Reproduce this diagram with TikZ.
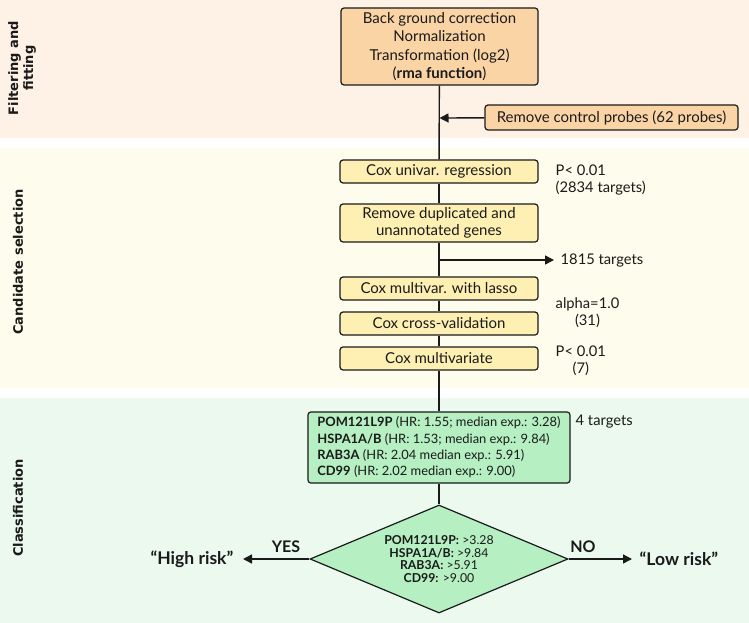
\documentclass[tikz,border=0pt]{standalone}
\usepackage{fontspec}
\setmainfont{Lato}
\newfontfamily\labfont{DejaVu Sans}
\usetikzlibrary{shapes.geometric,arrows.meta}
\definecolor{bandA}{HTML}{FEF1E6}
\definecolor{bandB}{HTML}{FEFCEC}
\definecolor{bandC}{HTML}{ECF9EF}
\definecolor{boxA}{HTML}{FBD4A5}
\definecolor{boxB}{HTML}{FDF0B2}
\definecolor{boxC}{HTML}{B5EFC2}
\definecolor{ink}{HTML}{1A1A1A}
\begin{document}
\begin{tikzpicture}[x=1pt,y=-1pt,
  line width=1.4pt,
  box/.style={draw=ink, rounded corners=3pt, line width=1.2pt, align=center,
     font=\fontsize{15}{18.5}\selectfont, inner sep=1pt, text=ink},
  abox/.style={box, fill=boxA},
  ybox/.style={box, fill=boxB, minimum width=198pt, minimum height=23pt},
  side/.style={font=\labfont\bfseries\fontsize{13}{15}\selectfont, rotate=90, align=center, text=ink},
  note/.style={font=\fontsize{14.7}{17}\selectfont, align=left, anchor=west, inner sep=0pt, text=ink},
  conn/.style={draw=ink, line width=1.4pt},
  arr/.style={conn, -{Triangle[length=9pt,width=9pt]}}]
\useasboundingbox (0,0) rectangle (749,623);
% bands
\fill[bandA] (0,0) rectangle (749,138);
\fill[bandB] (0,148) rectangle (749,388);
\fill[bandC] (0,398) rectangle (749,623);
% side labels
\node[side] (l1) at (22,68) {Filtering and\\fitting};
\node[side] (l2) at (18,262) {Candidate selection};
\node[side] (l3) at (18,508) {Classification};
% boxes
\node[abox, minimum width=197pt, minimum height=77pt] (top) at (439.5,46.5)
  {Back ground correction\\Normalization\\Transformation (log2)\\(\textbf{rma function})};
\node[abox, minimum width=253pt, minimum height=25pt] (rcp) at (611.5,117.5) {Remove control probes (62 probes)};
\node[ybox] (cu) at (439,171.5) {Cox univar. regression};
\node[ybox, minimum height=38pt, font=\fontsize{15}{16.5}\selectfont] (rd) at (439,223) {Remove duplicated and\\unannotated genes};
\node[ybox] (cml) at (439,288.5) {Cox multivar. with lasso};
\node[ybox] (ccv) at (439,323.5) {Cox cross-validation};
\node[ybox] (cm) at (439,358.5) {Cox multivariate};
\node[box, fill=boxC, minimum width=262pt, minimum height=71pt, align=left, inner sep=5pt,
  font=\fontsize{12.9}{16.3}\selectfont] (genes) at (439,447.5)
  {\textbf{POM121L9P} (HR: 1.55; median exp.: 3.28)\\
   \textbf{HSPA1A/B} (HR: 1.53; median exp.: 9.84)\\
   \textbf{RAB3A} (HR: 2.04 median exp.: 5.91)\\
   \textbf{CD99} (HR: 2.02 median exp.: 9.00)};
\node[diamond, draw=ink, fill=boxC, line width=1.2pt, aspect=2.4, inner sep=0pt,
  minimum width=258pt, minimum height=108pt, align=center, text=ink,
  font=\fontsize{12.3}{12.8}\selectfont] (dia) at (439,559)
  {\textbf{POM121L9P:} >3.28\\\textbf{HSPA1A/B:} >9.84\\\textbf{RAB3A:} >5.91\\\textbf{CD99:} >9.00};
% notes
\node[note] (n1) at (555,180) {P< 0.01\\(2834 targets)};
\node[note] (n2) at (560,261) {1815 targets};
\node[note, align=center] (n3) at (555,313) {alpha=1.0\\(31)};
\node[note, align=center] (n4) at (555,361) {P< 0.01\\(7)};
\node[note] (n5) at (575,422) {4 targets};
\node[font=\bfseries\fontsize{17.5}{20}\selectfont, anchor=east, inner sep=0pt, text=ink] (hr) at (234,559) {“High risk”};
\node[font=\bfseries\fontsize{17.5}{20}\selectfont, anchor=west, inner sep=0pt, text=ink] (lr) at (639,559) {“Low risk”};
\node[font=\bfseries\fontsize{16}{18}\selectfont, text=ink] (yes) at (286,547) {YES};
\node[font=\bfseries\fontsize{16}{18}\selectfont, text=ink] (no) at (583,547) {NO};
% connectors
\coordinate (j1) at (439.5,118);
\coordinate (j2) at (439,260);
\draw[conn] (top) -- (cu);
\draw[arr] (rcp) -- (j1);
\draw[conn] (cu) -- (rd);
\draw[conn] (rd) -- (cml);
\draw[arr] (j2) -- ([xshift=-6pt]n2.west |- j2);
\draw[conn] (cml) -- (ccv);
\draw[conn] (ccv) -- (cm);
\draw[conn] (cm) -- (genes);
\draw[conn] (genes) -- (dia);
\draw[arr] (dia.west) -- ([xshift=9pt]hr.east);
\draw[arr] (dia.east) -- ([xshift=-7pt]lr.west);
\end{tikzpicture}
\end{document}
